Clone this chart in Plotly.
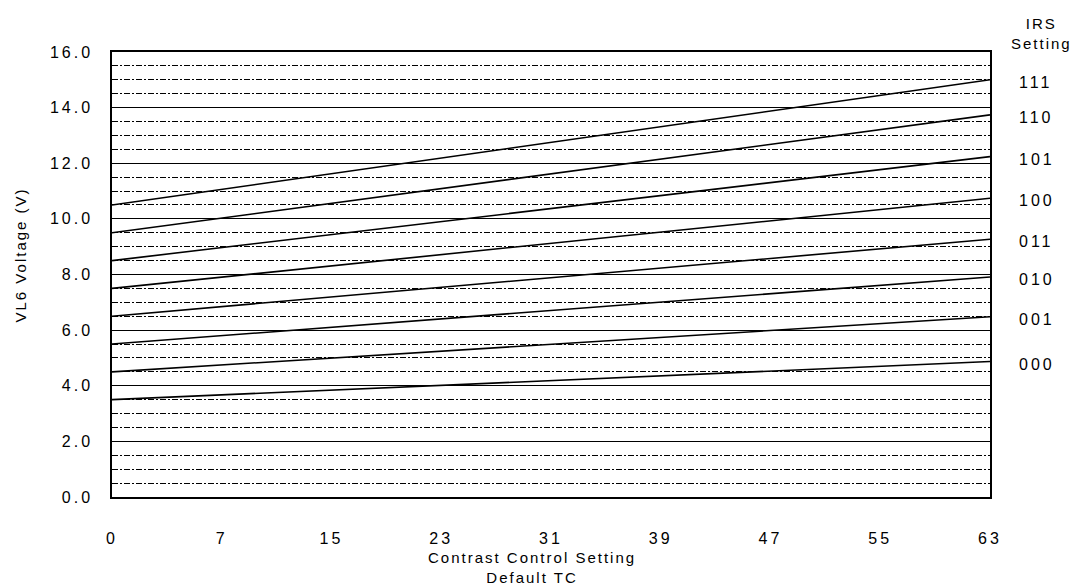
import plotly.graph_objects as go

# Data
x_ends = [0, 63]
irs_settings = ["000", "001", "010", "011", "100", "101", "110", "111"]
v_start = [3.5, 4.5, 5.5, 6.5, 7.5, 8.5, 9.5, 10.5]
v_end = [4.87, 6.48, 7.91, 9.27, 10.74, 12.24, 13.74, 15.0]
x_tick_labels = ["0", "7", "15", "23", "31", "39", "47", "55", "63"]
y_ticks = [0, 2, 4, 6, 8, 10, 12, 14, 16]

FONT = "Liberation Sans, Arial, sans-serif"
FS = 15
TFS = 16

fig = go.Figure()
for name, a, b in zip(irs_settings, v_start, v_end):
    fig.add_trace(go.Scatter(x=x_ends, y=[a, b], mode="lines",
                             line=dict(color="black", width=1.6),
                             name=name, showlegend=False, hoverinfo="skip"))

# invisible trace to anchor the right-hand IRS axis
fig.add_trace(go.Scatter(x=[x_ends[1]] * len(v_end), y=v_end, mode="markers",
                         marker=dict(opacity=0), yaxis="y2",
                         showlegend=False, hoverinfo="skip"))

n = len(x_tick_labels) - 1
tick_pos = [x_ends[1] * i / n for i in range(n + 1)]

fig.update_layout(
    width=1070, height=578,
    margin=dict(l=104, r=88, t=44, b=89),
    paper_bgcolor="white", plot_bgcolor="white",
    font=dict(family=FONT, color="black", size=FS),
    xaxis=dict(range=[0, 63], tickvals=tick_pos, ticktext=x_tick_labels,
               showgrid=False, zeroline=False, showline=True, mirror=True,
               linecolor="black", linewidth=1.5, ticks="",
               ticklabelstandoff=26, tickfont=dict(size=TFS)),
    yaxis=dict(range=[0, 16], tickvals=y_ticks, tickformat=".1f",
               showgrid=True, gridcolor="black", gridwidth=1.3,
               zeroline=False, showline=True, mirror=True,
               linecolor="black", linewidth=1.5, ticks="",
               ticklabelstandoff=14, tickfont=dict(size=TFS),
               minor=dict(dtick=0.5, showgrid=True, gridcolor="black",
                          gridwidth=1, griddash="6px,2px,2px,2px")),
    yaxis2=dict(overlaying="y", side="right", range=[0.09, 16.09],
                tickvals=v_end, ticktext=irs_settings, showgrid=False,
                zeroline=False, showline=False, ticks="",
                ticklabelstandoff=28, tickfont=dict(size=TFS)),
)

fig.add_annotation(x=0.5, y=0, xref="paper", yref="paper",
                   text="Contrast Control Setting<br>Default TC",
                   showarrow=False, xanchor="center", yanchor="middle",
                   xshift=-19, yshift=-70, font=dict(size=FS))

fig.add_annotation(x=0, y=0.5, xref="paper", yref="paper",
                   text="VL6 Voltage (V)", textangle=-90,
                   showarrow=False, xanchor="center", yanchor="middle",
                   xshift=-92, yshift=19, font=dict(size=FS))

fig.add_annotation(x=1, y=1, xref="paper", yref="paper", text="IRS<br>Setting",
                   showarrow=False, xanchor="center", yanchor="bottom",
                   xshift=51, yshift=-2, font=dict(size=FS))

post = """
var s = document.createElement('style');
s.textContent = '.main-svg text { letter-spacing: 2px; } ' +
  '.main-svg .xtick text, .main-svg .ytick text, .main-svg .y2tick text { letter-spacing: 3px; }';
document.head.appendChild(s);
"""
fig.write_html("out.html", post_script=post)
